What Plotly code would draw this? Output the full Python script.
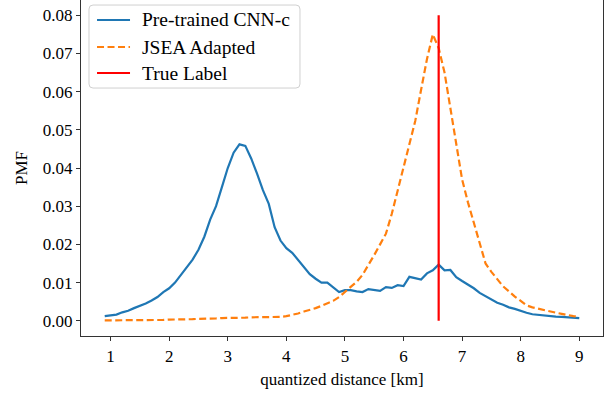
import plotly.graph_objects as go

x_km = [round(0.9 + 0.1 * i, 1) for i in range(82)]

pretrained_cnn = [
    0.0012, 0.0013, 0.0016, 0.0022, 0.0026, 0.0033, 0.0038, 0.0045, 0.0053, 0.0062,
    0.0075, 0.0085, 0.0100, 0.0120, 0.0138, 0.0160, 0.0186, 0.0220, 0.0265, 0.0300,
    0.0350, 0.0400, 0.0440, 0.0462, 0.0458, 0.0425, 0.0385, 0.0342, 0.0306, 0.0245,
    0.0210, 0.0190, 0.0178, 0.0160, 0.0140, 0.0122, 0.0110, 0.0100, 0.0100, 0.0087,
    0.0075, 0.0080, 0.0080, 0.0077, 0.0075, 0.0083, 0.0080, 0.0078, 0.0088, 0.0086,
    0.0093, 0.0091, 0.0115, 0.0112, 0.0108, 0.0124, 0.0132, 0.0147, 0.0132, 0.0133,
    0.0114, 0.0104, 0.0095, 0.0085, 0.0073, 0.0065, 0.0055, 0.0047, 0.0042, 0.0035,
    0.0031, 0.0025, 0.0021, 0.0017, 0.0015, 0.0013, 0.0012, 0.0011, 0.0010, 0.0009,
    0.0008, 0.0007,
]

jsea_adapted = [
    0.0001, 0.0001, 0.0001, 0.0001, 0.0001, 0.0002, 0.0002, 0.0002, 0.0002, 0.0002,
    0.0002, 0.0003, 0.0003, 0.0003, 0.0004, 0.0004, 0.0005, 0.0005, 0.0006, 0.0006,
    0.0007, 0.0007, 0.0008, 0.0008, 0.0008, 0.0009, 0.0009, 0.0009, 0.0009, 0.0010,
    0.0010, 0.0012, 0.0015, 0.0019, 0.0024, 0.0028, 0.0033, 0.0039, 0.0045, 0.0052,
    0.0062, 0.0076, 0.0088, 0.0102, 0.0120, 0.0145, 0.0172, 0.0200, 0.0228, 0.0280,
    0.0340, 0.0405, 0.0465, 0.0523, 0.0605, 0.0685, 0.0750, 0.0714, 0.0650, 0.0555,
    0.0465, 0.0370, 0.0310, 0.0258, 0.0200, 0.0150, 0.0128, 0.0110, 0.0090, 0.0077,
    0.0063, 0.0052, 0.0040, 0.0035, 0.0031, 0.0028, 0.0025, 0.0021, 0.0018, 0.0014,
    0.0012, 0.0010,
]

true_label_x = [6.6, 6.6]
true_label_y = [0.0, 0.08]

series_names = ["Pre-trained CNN-c", "JSEA Adapted", "True Label"]
series_colors = ["#1f77b4", "#ff7f0e", "#ff0000"]
series_dash = ["solid", "7px,3.5px", "solid"]

x_ticks = [1, 2, 3, 4, 5, 6, 7, 8, 9]
y_ticks = [0.00, 0.01, 0.02, 0.03, 0.04, 0.05, 0.06, 0.07, 0.08]

FONT = "Liberation Serif"
LW = 2.2

fig = go.Figure()
fig.add_trace(go.Scatter(x=x_km, y=pretrained_cnn, mode="lines", name=series_names[0],
                         line=dict(color=series_colors[0], width=LW, dash=series_dash[0])))
fig.add_trace(go.Scatter(x=x_km, y=jsea_adapted, mode="lines", name=series_names[1],
                         line=dict(color=series_colors[1], width=LW, dash=series_dash[1])))
fig.add_trace(go.Scatter(x=true_label_x, y=true_label_y, mode="lines", name=series_names[2],
                         line=dict(color=series_colors[2], width=LW, dash=series_dash[2])))

# Manual legend (matplotlib-style) in paper coordinates
x0, x1, y0, y1 = 0.0153, 0.4195, 0.738, 0.985
rx, ry = 4 / 522, 4 / 336
path = (f"M {x0+rx},{y0} L {x1-rx},{y0} Q {x1},{y0} {x1},{y0+ry} "
        f"L {x1},{y1-ry} Q {x1},{y1} {x1-rx},{y1} L {x0+rx},{y1} "
        f"Q {x0},{y1} {x0},{y1-ry} L {x0},{y0+ry} Q {x0},{y0} {x0+rx},{y0} Z")
fig.add_shape(type="path", path=path, xref="paper", yref="paper",
              line=dict(color="#d0d0d0", width=1), fillcolor="rgba(255,255,255,0.8)", layer="above")
entry_y = [0.9405, 0.8601, 0.7827]
for name, color, dash, yy in zip(series_names, series_colors, series_dash, entry_y):
    fig.add_shape(type="line", xref="paper", yref="paper", x0=0.0307, x1=0.0939, y0=yy, y1=yy,
                  line=dict(color=color, width=LW, dash=dash), layer="above")
    fig.add_annotation(x=0.113, y=yy, xref="paper", yref="paper", text=name, showarrow=False,
                       xanchor="left", yanchor="middle",
                       font=dict(family=FONT, size=19.5, color="black"))

axis_common = dict(showline=True, linecolor="#333333", linewidth=1.2, mirror=True,
                   ticks="outside", ticklen=4, tickwidth=1, tickcolor="#333333",
                   showgrid=False, zeroline=False,
                   tickfont=dict(family=FONT, size=17, color="black"))

fig.update_layout(
    width=610, height=394,
    margin=dict(l=81, r=7, t=0, b=58),
    paper_bgcolor="white", plot_bgcolor="white",
    font=dict(family=FONT, size=17, color="black"),
    xaxis=dict(range=[0.495, 9.405], tickvals=x_ticks, ticktext=[str(v) for v in x_ticks],
               title=dict(text="quantized distance [km]", font=dict(family=FONT, size=17), standoff=8),
               **axis_common),
    yaxis=dict(range=[-0.004, 0.084], tickvals=y_ticks, ticktext=[f"{v:.2f}" for v in y_ticks],
               title=dict(text="PMF", font=dict(family=FONT, size=17), standoff=10),
               **axis_common),
    showlegend=False,
)

fig.write_html("out.html")
